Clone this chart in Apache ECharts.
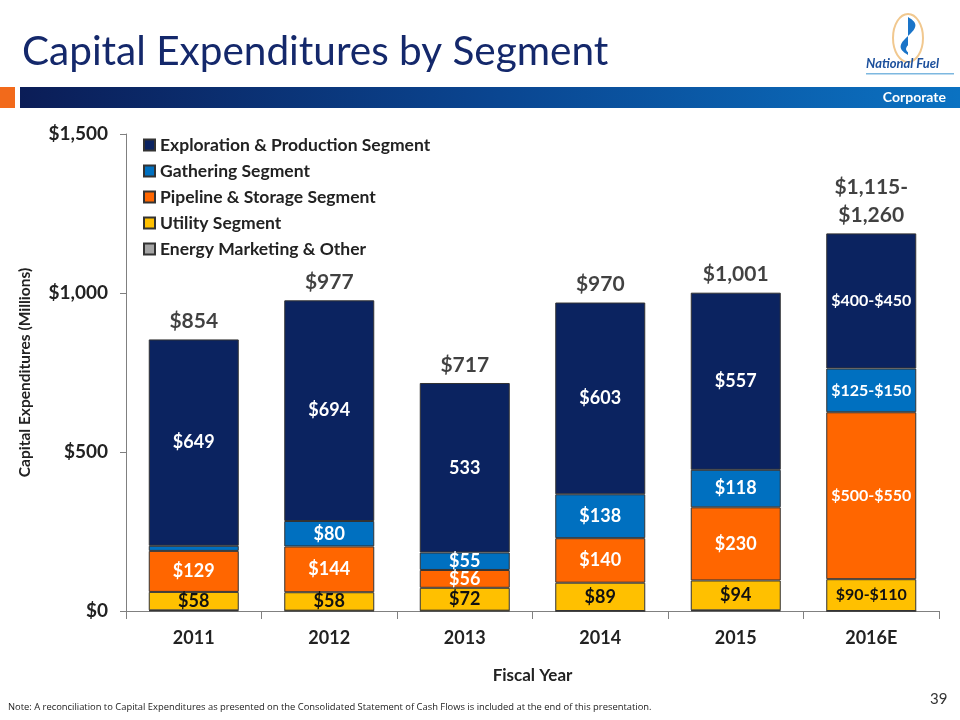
<!DOCTYPE html>
<html><head><meta charset="utf-8">
<script src="https://cdn.jsdelivr.net/npm/echarts@6/dist/echarts.min.js"></script>
<style>html,body{margin:0;padding:0;background:#fff}#c{width:960px;height:720px}</style>
</head><body><div id="c"></div>
<script>
var categories = ['2011','2012','2013','2014','2015','2016E'];
var seriesNames = ['Exploration & Production Segment','Gathering Segment','Pipeline & Storage Segment','Utility Segment','Energy Marketing & Other'];
var otherValues = [2,1,1,0,2,0];
var utilityValues = [58,58,72,89,94,100];
var pipelineValues = [129,144,56,140,230,525];
var gatheringValues = [16,80,55,138,118,137.5];
var explorationValues = [649,694,533,603,557,425];
var totalValues = [854,977,717,970,1001,1187.5];
var utilityLabels = ['$58','$58','$72','$89','$94','$90-$110'];
var pipelineLabels = ['$129','$144','$56','$140','$230','$500-$550'];
var gatheringLabels = ['','$80','$55','$138','$118','$125-$150'];
var explorationLabels = ['$649','$694','533','$603','$557','$400-$450'];
var totalLabels = ['$854','$977','$717','$970','$1,001','$1,115-\n$1,260'];
var yTicks = {min:0, max:1500, interval:500};

var FONT = 'Lato';
var chart = echarts.init(document.getElementById('c'), null, {renderer:'canvas'});

function segLabel(arr, color) {
  return {
    show: true, position: 'inside', color: color, fontFamily: FONT, fontWeight: 'bold',
    formatter: function (p) { return arr[p.dataIndex]; },
    fontSize: 18
  };
}
function makeData(vals) {
  return vals.map(function (v, i) {
    var d = {value: v};
    if (i === 5) d.label = {fontSize: 16};
    return d;
  });
}
var border = {borderColor: '#333', borderWidth: 1};

var dropOuter = [], dropInner = [];
(function () {
  for (var k = 0; k <= 40; k++) {
    var t = k / 40 * Math.PI * 2;
    var x = Math.sin(t) * Math.pow(Math.sin(t / 2), 1.2);
    var y = -Math.cos(t / 2);
    dropOuter.push([908 + x * 10, 36 + y * 19]);
    dropInner.push([909 + x * 4, 44 + y * 9]);
  }
})();

var option = {
  animation: false,
  textStyle: {fontFamily: FONT},
  title: {
    text: 'Capital Expenditures by Segment', left: 17, top: 26,
    textStyle: {fontFamily: FONT, fontSize: 40.5, fontWeight: 'normal', color: '#14286b'}
  },
  graphic: [
    {type:'rect', shape:{x:0,y:87,width:15,height:21}, style:{fill:'#f26a1b'}},
    {type:'rect', shape:{x:20,y:87,width:940,height:21}, style:{fill:new echarts.graphic.LinearGradient(0,0,1,0,[{offset:0,color:'#0b1d57'},{offset:0.5,color:'#0a4590'},{offset:1,color:'#0b72c2'}])}},
    {type:'text', right: 14, top: 90, style:{text:'Corporate', fill:'#fff', font:'bold 14px Lato'}},
    {type:'ellipse', shape:{cx:908, cy:38, rx:15, ry:24}, style:{fill:'#fff', stroke:'#f1c88f', lineWidth:2}},
    {type:'polygon', shape:{points: dropOuter}, style:{fill:'#1a74c8'}},
    {type:'polygon', shape:{points: dropInner}, style:{fill:'#fff'}},
    {type:'text', left: 866, top: 57, style:{text:'National Fuel', fill:'#1b4f9c', font:'italic bold 13px Lato'}},
    {type:'rect', shape:{x:866,y:73,width:88,height:1.5}, style:{fill:'#7db8e0'}},
    {type:'text', left: 8, top: 703, style:{text:'Note: A reconciliation to Capital Expenditures as presented on the Consolidated Statement of Cash Flows is included at the end of this presentation.', fill:'#222', font:'9.4px "Open Sans"'}},
    {type:'text', left: 930, top: 692, style:{text:'39', fill:'#333', font:'15px Lato'}}
  ],
  legend: {
    data: seriesNames, orient: 'vertical', left: 138, top: 131, itemGap: 8,
    itemWidth: 11, itemHeight: 11, icon: 'rect',
    textStyle: {fontFamily: FONT, fontSize: 17.5, lineHeight: 17, fontWeight: 'bold', color: '#222'}
  },
  grid: {left: 126, top: 134, width: 813, height: 477},
  xAxis: {
    type: 'category', data: categories, name: 'Fiscal Year', nameLocation: 'middle', nameGap: 56,
    nameTextStyle: {fontFamily: FONT, fontSize: 17, fontWeight: 'bold', color: '#222'},
    axisLine: {lineStyle: {color: '#808080', width: 1}},
    axisTick: {show: true, alignWithLabel: false, length: 8, lineStyle: {color: '#808080'}},
    axisLabel: {fontFamily: FONT, fontSize: 18, fontWeight: 'bold', color: '#222', margin: 18}
  },
  yAxis: {
    type: 'value', min: yTicks.min, max: yTicks.max, interval: yTicks.interval,
    name: 'Capital Expenditures (Millions)', nameLocation: 'middle', nameGap: 93,
    nameTextStyle: {fontFamily: FONT, fontSize: 15.5, fontWeight: 'bold', color: '#222'},
    axisLine: {show: true, lineStyle: {color: '#808080', width: 1}},
    axisTick: {show: true, length: 6, lineStyle: {color: '#808080'}},
    splitLine: {show: false},
    axisLabel: {fontFamily: FONT, fontSize: 19, fontWeight: 'bold', color: '#222', margin: 18,
      formatter: function (v) { return '$' + v.toLocaleString('en-US'); }}
  },
  series: [
    {name: seriesNames[4], type: 'bar', stack: 't', barWidth: 90, data: otherValues, itemStyle: Object.assign({color: '#a5a5a5'}, border), label: {show: false}},
    {name: seriesNames[3], type: 'bar', stack: 't', data: makeData(utilityValues), itemStyle: Object.assign({color: '#ffc000'}, border), label: segLabel(utilityLabels, '#111')},
    {name: seriesNames[2], type: 'bar', stack: 't', data: makeData(pipelineValues), itemStyle: Object.assign({color: '#ff6600'}, border), label: segLabel(pipelineLabels, '#fff')},
    {name: seriesNames[1], type: 'bar', stack: 't', data: makeData(gatheringValues), itemStyle: Object.assign({color: '#0070c0'}, border), label: segLabel(gatheringLabels, '#fff')},
    {name: seriesNames[0], type: 'bar', stack: 't', data: makeData(explorationValues), itemStyle: Object.assign({color: '#0b2360'}, border), label: segLabel(explorationLabels, '#fff')},
    {name: 'Total', type: 'scatter', data: totalValues, symbolSize: 0, silent: true,
      label: {show: true, position: 'top', distance: 4, color: '#111', fontFamily: FONT, fontWeight: 'bold', fontSize: 21, lineHeight: 28,
        formatter: function (p) { return totalLabels[p.dataIndex]; }}}
  ]
};
chart.setOption(option);
</script></body></html>
